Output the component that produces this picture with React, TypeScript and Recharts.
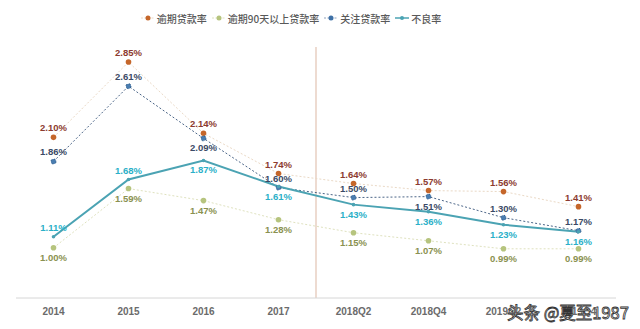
import React from 'react';
import {
  LineChart,
  Line,
  XAxis,
  YAxis,
  Legend,
  LabelList,
  ReferenceLine,
} from 'recharts';

// categories (last two are partly hidden by the watermark in the source)
const periods = ['2014', '2015', '2016', '2017', '2018Q2', '2018Q4', '2019Q2', '2019Q4'];

// rates in %
const overdueRate = [2.1, 2.85, 2.14, 1.74, 1.64, 1.57, 1.56, 1.41];
const overdue90Rate = [1.0, 1.59, 1.47, 1.28, 1.15, 1.07, 0.99, 0.99];
const specialMentionRate = [1.86, 2.61, 2.09, 1.6, 1.5, 1.51, 1.3, 1.17];
const nplRate = [1.11, 1.68, 1.87, 1.61, 1.43, 1.36, 1.23, 1.16];

const data = periods.map((p, i) => ({
  idx: i,
  period: p,
  overdue: overdueRate[i],
  overdue90: overdue90Rate[i],
  mention: specialMentionRate[i],
  npl: nplRate[i],
}));

// which side of the point each label sits on
const mentionSides = ['top', 'top', 'bottom', 'top', 'top', 'bottom', 'top', 'top'];
const nplSides = ['top', 'top', 'bottom', 'bottom', 'bottom', 'bottom', 'bottom', 'bottom'];

const centerTicks = periods.map((_, i) => i);
const boundaryTicks = [...periods.map((_, i) => i - 0.5), periods.length - 0.5];

const LABEL_FONT = "'Liberation Sans Narrow', 'Liberation Sans', sans-serif";

const makeLabel = (color: string, sides: string[]) => (props: any) => {
  const { x, y, value, index } = props;
  if (x == null || y == null || value == null) return null;
  const dy = sides[index] === 'top' ? -6 : 13;
  return (
    <text
      x={x}
      y={y + dy}
      textAnchor="middle"
      fill={color}
      fontSize={9.5}
      fontWeight="bold"
      fontFamily={LABEL_FONT}
    >
      {`${Number(value).toFixed(2)}%`}
    </text>
  );
};

const allTop = periods.map(() => 'top');
const allBottom = periods.map(() => 'bottom');

const legendItems = [
  { name: '逾期贷款率', line: '#ead9c6', dot: '#c5662a', dashed: true },
  { name: '逾期90天以上贷款率', line: '#dfe2bf', dot: '#b6c47e', dashed: true },
  { name: '关注贷款率', line: '#8fa3bd', dot: '#3e70a6', dashed: true },
  { name: '不良率', line: '#4ba3b3', dot: '#4ba3b3', dashed: false },
];

const LegendContent = () => (
  <div
    style={{
      height: 39,
      display: 'flex',
      justifyContent: 'center',
      alignItems: 'flex-start',
      paddingRight: 50,
      fontFamily: "'Noto Sans CJK SC', sans-serif",
      fontSize: 10,
      fontWeight: 500,
      color: '#595959',
    }}
  >
    {legendItems.map((it, i) => (
      <div
        key={it.name}
        style={{ display: 'flex', alignItems: 'center', height: 20, marginLeft: i === 0 ? 0 : 5 }}
      >
        <svg width={14} height={8} style={{ marginRight: 2 }}>
          <line
            x1={0}
            y1={4}
            x2={14}
            y2={4}
            stroke={it.line}
            strokeWidth={it.dashed ? 1 : 1.5}
            strokeDasharray={it.dashed ? '2 1.5' : undefined}
          />
          <circle cx={7} cy={4} r={it.dashed ? 2.5 : 2} fill={it.dot} />
        </svg>
        <span>{it.name}</span>
      </div>
    ))}
  </div>
);

export default function App() {
  return (
    <div style={{ position: 'absolute', left: 0, top: 0, width: 640, height: 329, background: '#fff' }}>
      <LineChart
        width={640}
        height={329}
        data={data}
        margin={{ top: 8, right: 24, bottom: 6, left: 16 }}
      >
        <Legend verticalAlign="top" align="center" content={<LegendContent />} />
        <XAxis
          xAxisId="grid"
          type="number"
          dataKey="idx"
          domain={[-0.5, periods.length - 0.5]}
          ticks={boundaryTicks}
          tick={false}
          height={1}
          axisLine={{ stroke: '#d6d6d6' }}
          tickLine={{ stroke: '#cfcfcf' }}
          tickSize={4}
          allowDataOverflow
        />
        <XAxis
          xAxisId="main"
          type="number"
          dataKey="idx"
          domain={[-0.5, periods.length - 0.5]}
          ticks={centerTicks}
          tickFormatter={(i: number) => periods[i] ?? ''}
          axisLine={false}
          tickLine={false}
          tickMargin={3}
          height={24}
          interval={0}
          tick={{ fontSize: 10, fontWeight: 'bold', fill: '#6b6b6b', fontFamily: "'Liberation Sans', sans-serif" }}
        />
        <YAxis hide domain={[0.5, 3]} />
        <ReferenceLine xAxisId="main" x={3.5} stroke="#e2c3b3" strokeWidth={1.2} />

        <Line
          xAxisId="main"
          dataKey="overdue"
          stroke="#ead9c6"
          strokeDasharray="2 2"
          strokeWidth={1}
          dot={{ r: 2.8, fill: '#c5662a', stroke: 'none' }}
          isAnimationActive={false}
        >
          <LabelList dataKey="overdue" content={makeLabel('#8c3b2f', allTop)} />
        </Line>
        <Line
          xAxisId="main"
          dataKey="overdue90"
          stroke="#dfe2bf"
          strokeDasharray="2 2"
          strokeWidth={1}
          dot={{ r: 2.8, fill: '#b6c47e', stroke: 'none' }}
          isAnimationActive={false}
        >
          <LabelList dataKey="overdue90" content={makeLabel('#8a9150', allBottom)} />
        </Line>
        <Line
          xAxisId="main"
          dataKey="mention"
          stroke="#4c6688"
          strokeDasharray="2 2"
          strokeWidth={1}
          dot={{ r: 2.5, fill: '#4a7db0', stroke: '#2f5d8c', strokeWidth: 1 }}
          isAnimationActive={false}
        >
          <LabelList dataKey="mention" content={makeLabel('#3a4a66', mentionSides)} />
        </Line>
        <Line
          xAxisId="main"
          dataKey="npl"
          stroke="#4ba3b3"
          strokeWidth={2}
          dot={{ r: 1.8, fill: '#4ba3b3', stroke: 'none' }}
          isAnimationActive={false}
        >
          <LabelList dataKey="npl" content={makeLabel('#2ab0c8', nplSides)} />
        </Line>
      </LineChart>
      <div
        style={{
          position: 'absolute',
          left: 507,
          top: 302,
          fontFamily: "'Noto Sans CJK SC', sans-serif",
          fontSize: 16.5,
          lineHeight: '20px',
          color: '#fff',
          WebkitTextStroke: '0.8px #333',
          whiteSpace: 'nowrap',
        }}
      >
        头条 @夏至1987
      </div>
    </div>
  );
}
